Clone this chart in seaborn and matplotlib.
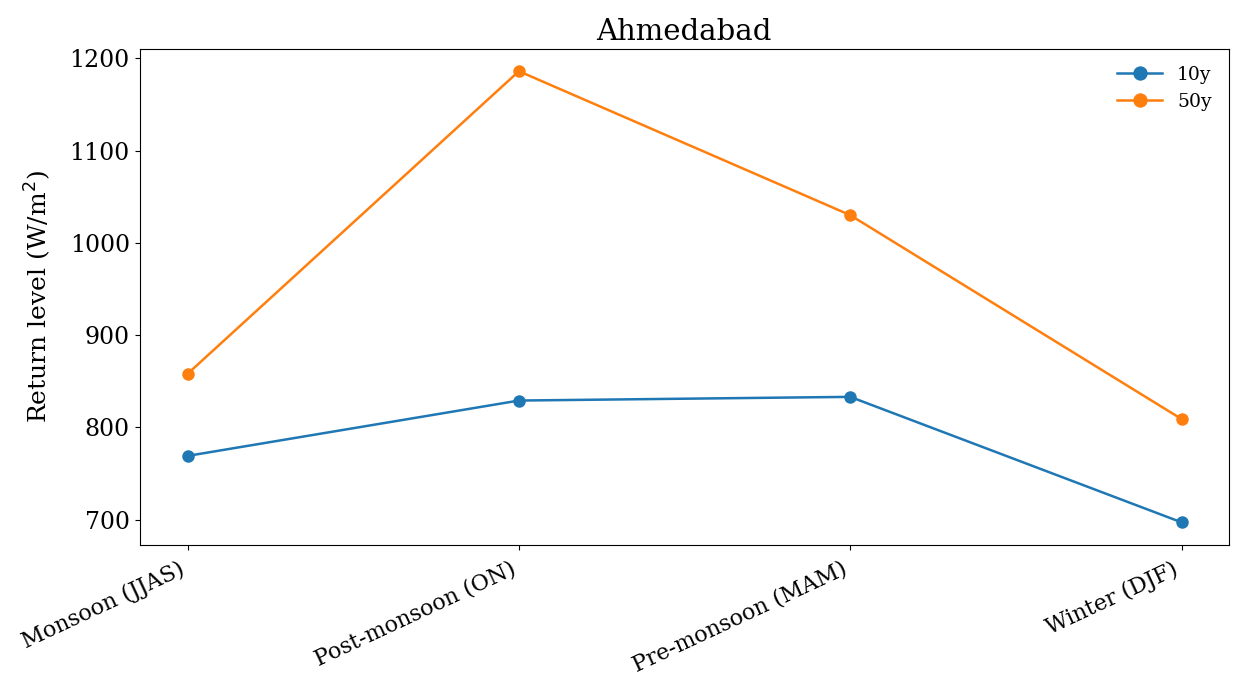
import matplotlib
matplotlib.use("Agg")
import matplotlib.pyplot as plt
import seaborn as sns
import pandas as pd

seasons = ["Monsoon (JJAS)", "Post-monsoon (ON)", "Pre-monsoon (MAM)", "Winter (DJF)"]
rl_10y = [769, 829, 833, 697]
rl_50y = [858, 1186, 1030, 809]

df = pd.DataFrame({
    "season": seasons * 2,
    "value": rl_10y + rl_50y,
    "period": ["10y"] * 4 + ["50y"] * 4,
})

plt.rcParams["font.family"] = ["DejaVu Serif"]

fig, ax = plt.subplots(figsize=(12.46, 6.95), dpi=100)
sns.lineplot(data=df, x="season", y="value", hue="period", marker="o",
             markersize=9, markeredgewidth=0, linewidth=1.8,
             palette=["#1f77b4", "#ff7f0e"], ax=ax, sort=False)

ax.set_title("Ahmedabad", fontsize=21)
ax.set_ylabel("Return level (W/m$^2$)", fontsize=18, labelpad=12)
ax.set_xlabel("")
ax.tick_params(axis="y", labelsize=17)
ax.tick_params(axis="x", labelsize=16, pad=6)
plt.setp(ax.get_xticklabels(), rotation=25, ha="right")
ax.set_yticks([700, 800, 900, 1000, 1100, 1200])
ax.set_xlim(-0.145, 3.142)
leg = ax.legend(frameon=False, fontsize=13.5, loc="upper right", handlelength=2.4,
                markerscale=1.15)
leg.set_title(None)
fig.subplots_adjust(left=0.112, right=0.986, top=0.93, bottom=0.216)
fig.savefig("out.png", dpi=100)
